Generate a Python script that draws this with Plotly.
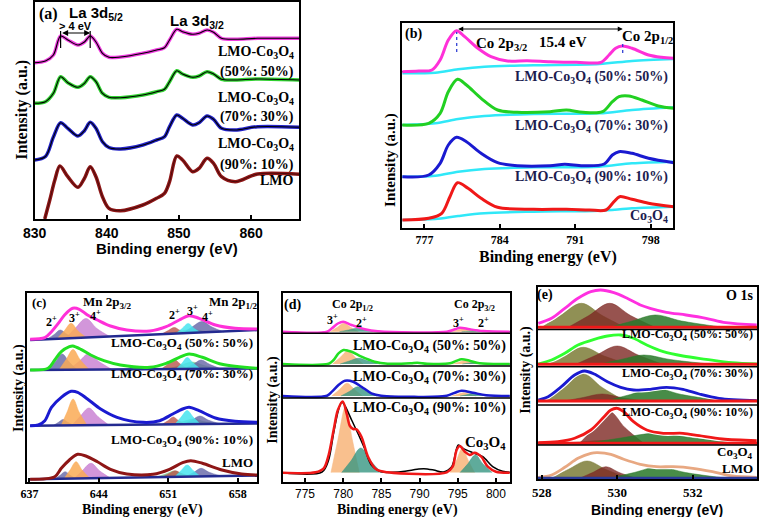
import plotly.graph_objects as go

W, H = 760, 517
SERIF = "Liberation Serif, Times New Roman, serif"
SANS = "Liberation Sans, Arial, sans-serif"

# ---------------- (a) La 3d ----------------
a_energy = [830.0, 831.5, 832.6, 833.6, 834.6, 836.0, 836.9, 837.7, 838.5, 839.4, 840.3, 841.9, 845.0,
            846.9, 848.0, 848.7, 849.7, 850.5, 851.9, 852.8, 853.9, 854.8, 855.9, 857.8, 860.9, 866.7]
a_5050 = [156.3, 158, 164, 183, 179, 174, 177, 183, 177, 165.7, 161.7, 162, 165.7, 169, 171.3, 179,
          189.7, 187.3, 184.7, 185.7, 189, 186.7, 180.7, 179.7, 180.7, 180.7]
a_7030 = [115.7, 117.3, 125.7, 142.3, 136.3, 131.7, 135.7, 142.3, 137.3, 125.7, 121.7, 121.3, 124,
          127.3, 129.7, 137.3, 148.3, 145, 141.7, 143, 147.3, 145, 139.7, 139, 140, 139]
a_9010 = [59, 62.5, 82, 96.3, 90.7, 83, 88.3, 96.7, 90.7, 77.3, 71.5, 70, 74, 79, 82.3, 92.3, 104,
          100.7, 94, 96.3, 103, 99.7, 90.7, 89, 92.3, 91.7]
a_lmo_energy = [831.4, 832.1, 832.8, 833.5, 834.6, 836.0, 836.9, 837.7, 838.5, 839.4, 840.3, 841.9, 845.0,
                846.9, 848.0, 848.7, 849.7, 850.5, 851.9, 852.8, 853.9, 854.8, 855.9, 857.8, 860.9, 866.7]
a_lmo = [0, 19, 39, 53, 42.3, 31.7, 40.7, 52.3, 42.3, 22.3, 10.7, 8.3, 14, 20.7, 25.7, 37.3, 63, 59,
         47.3, 50.7, 60.7, 55.7, 42.3, 37.3, 45, 44.7]
a_ticks = [830, 840, 850, 860]

# ---------------- (b) Co 2p ----------------
b_5050_E = [774.96, 776.48, 777.70, 778.46, 779.22, 779.98, 780.74, 781.96, 783.18, 784.70, 786.53,
            788.66, 791.09, 793.37, 794.13, 794.74, 795.35, 796.26, 797.79, 799.0, 800.13]
b_5050 = [156.3, 157, 158, 168, 188, 197.3, 191.3, 179.7, 171.3, 167, 167.3, 166.3, 165.7, 165.7, 173,
          179.7, 182, 179.7, 173, 170.7, 169.7]
b_7030_E = [774.96, 777.40, 778.46, 779.22, 780.07, 780.9, 782.26, 783.79, 785.61, 788.66, 790.18,
            791.70, 793.52, 794.44, 795.05, 795.96, 797.18, 798.70, 800.13]
b_7030 = [103, 104.7, 114.7, 136.3, 148.7, 143, 129.7, 118, 115.7, 116.3, 118, 115.7, 116.3, 126.3,
          131.3, 132, 128, 122, 119.7]
b_9010_E = [774.96, 777.40, 778.46, 779.22, 779.98, 780.9, 782.26, 783.79, 785.61, 788.66, 790.02,
            791.70, 793.68, 794.44, 795.05, 796.26, 797.79, 800.13]
b_9010 = [51.3, 53, 64.7, 83, 90.7, 86.3, 74.7, 65.3, 62.3, 62.3, 63.7, 62.3, 64, 73, 76.3, 74.7, 69.7, 65.3]
b_co_E = [774.96, 777.40, 778.61, 779.37, 780.07, 781.05, 782.26, 783.79, 787.13, 790.18, 792.31,
          793.83, 794.59, 795.11, 796.26, 797.79, 800.13]
b_co = [8, 9.7, 14.7, 31.3, 45.3, 39.7, 29.7, 20.7, 18.7, 18.7, 18, 18, 26.3, 31.3, 28.7, 24.7, 21.3]
b_bg_E = [774.96, 778.0, 780.13, 782.57, 787.13, 793.22, 796.26, 800.13]
b_bg_5050 = [154.7, 155.3, 158.7, 161.3, 162.7, 164, 167, 169]
b_bg_7030 = [103, 104.7, 109, 112, 114, 114.7, 118, 120.7]
b_bg_9010 = [51.3, 52.3, 56.3, 59, 60.7, 61.3, 64.7, 66.3]
b_bg_co = [8, 9, 12, 14.7, 16.3, 17.3, 19.7, 21.3]
b_ticks = [777, 784, 791, 798]

# ---------------- (c) Mn 2p ----------------
c_5050_E = [637.07, 638.55, 639.22, 640.04, 640.54, 641.37, 642.03, 642.85, 643.85, 645.17, 646.82,
            649.14, 650.79, 652.11, 653.10, 654.10, 655.75, 657.73, 659.98]
c_5050 = [142.7, 144.3, 150.3, 160.3, 167, 173.7, 172.7, 167, 162, 156, 152, 151, 155.3, 162, 166.3,
          163.7, 157, 153.7, 153]
c_7030_E = [637.07, 638.88, 639.55, 640.21, 641.03, 641.37, 642.19, 643.18, 644.51, 646.16, 649.14,
            650.79, 652.11, 653.10, 654.43, 656.41, 659.98]
c_7030 = [112, 113.7, 122, 130.3, 135.3, 136, 132.7, 127, 121.3, 117, 114.7, 118.7, 124.7, 128, 124.7,
          117.7, 113.7]
c_9010_E = [637.07, 637.89, 638.55, 639.22, 640.21, 641.2, 641.86, 642.85, 644.18, 645.83, 648.47,
            650.13, 651.45, 652.44, 653.10, 654.10, 655.75, 657.73, 659.98]
c_9010 = [56.3, 57, 61.3, 74.7, 84.7, 90.7, 89.7, 83, 73, 64.7, 59.7, 61.3, 68, 73, 74.7, 71.3, 64,
          60.7, 59.7]
c_lmo_E = [637.07, 639.55, 640.21, 641.03, 641.86, 642.69, 643.85, 645.17, 646.82, 649.47, 651.12,
           652.44, 653.27, 654.43, 656.41, 658.40, 659.98]
c_lmo = [2.7, 5.3, 13.7, 22, 27.7, 26, 20.3, 12.7, 8, 7.7, 12.7, 19.3, 21.3, 18.7, 12, 8, 7]
c_base_E = [637.07, 659.98]
c_base_5050 = [142, 152]
c_base_7030 = [112, 113.5]
c_base_9010 = [56.3, 58.5]
c_base_lmo = [2.7, 6.5]
# fitted components: Mn2+, Mn3+, Mn4+ (2p3/2) ; Mn2+, Mn3+, Mn4+, satellite (2p1/2)
c_5050_peaks = [
    ([638.8, 639.5, 640.1, 640.8, 641.6], [143, 147.5, 152, 147.5, 143.5]),
    ([639.8, 640.5, 641.2, 641.9, 642.8], [143.4, 151, 158.7, 151, 144]),
    ([640.6, 641.6, 642.7, 643.8, 645.2], [143.6, 153.5, 163.5, 153.5, 145]),
    ([650.4, 651.0, 651.6, 652.2, 652.9], [148.3, 151.5, 154.5, 151.5, 148.8]),
    ([651.8, 652.4, 653.0, 653.6, 654.3], [148.8, 153.5, 158.5, 153.5, 149.3]),
    ([652.5, 653.4, 654.4, 655.4, 656.6], [149, 155, 160.5, 155, 150]),
    ([650.8, 652.0, 653.4, 654.8, 656.2], [148.5, 150.5, 152.5, 150.5, 149.7]),
]
c_7030_peaks = [
    ([638.9, 639.6, 640.3, 641.0, 641.8], [112.2, 120, 128, 120, 112.4]),
    ([640.0, 640.7, 641.4, 642.1, 643.0], [112.3, 122.5, 132.5, 122.5, 112.5]),
    ([641.0, 642.0, 643.0, 644.0, 645.3], [112.4, 120.5, 128.5, 120.5, 112.7]),
    ([650.3, 651.0, 651.6, 652.2, 652.9], [113, 118, 122.5, 118, 113.1]),
    ([651.8, 652.4, 652.9, 653.5, 654.2], [113.1, 119, 124.5, 119, 113.2]),
    ([652.6, 653.5, 654.3, 655.2, 656.3], [113.2, 117.5, 122, 117.5, 113.3]),
    ([651.0, 652.2, 653.4, 654.6, 656.0], [113.1, 116.5, 120, 116.5, 113.3]),
]
c_9010_peaks = [
    ([639.4, 639.9, 640.4, 640.9, 641.5], [56.5, 59.5, 62.5, 59.5, 56.6]),
    ([640.2, 640.8, 641.4, 642.0, 642.8], [56.6, 70, 83, 70, 56.8]),
    ([641.3, 642.1, 643.0, 643.9, 645.0], [56.7, 65.5, 74, 65.5, 57]),
    ([650.4, 651.0, 651.5, 652.0, 652.7], [57.8, 61.5, 65, 61.5, 57.9]),
    ([651.7, 652.3, 652.9, 653.5, 654.2], [58, 65, 71.5, 65, 58.1]),
    ([652.6, 653.4, 654.2, 655.0, 656.2], [58.1, 62, 66, 62, 58.2]),
    ([651.5, 652.5, 653.5, 654.6, 656.0], [58, 60.5, 63, 60.5, 58.2]),
]
c_lmo_peaks = [
    ([639.6, 640.1, 640.6, 641.1, 641.7], [3.2, 6.7, 10.3, 6.7, 3.3]),
    ([640.5, 641.1, 641.7, 642.3, 643.1], [3.3, 12, 20.3, 12, 3.5]),
    ([641.5, 642.3, 643.2, 644.1, 645.2], [3.4, 11, 18.7, 11, 3.7]),
    ([650.5, 651.1, 651.7, 652.3, 653.0], [5.5, 8.5, 11.3, 8.5, 5.7]),
    ([651.7, 652.3, 652.9, 653.5, 654.2], [5.7, 11.5, 17, 11.5, 5.8]),
    ([652.8, 653.6, 654.3, 655.1, 656.3], [5.8, 9.8, 13.7, 9.8, 6]),
    ([650.0, 650.8, 651.6, 652.4, 653.3], [5.5, 8.3, 11, 8.3, 5.7]),
]
c_ticks = [637, 644, 651, 658]

# ---------------- (d) Co 2p fitted ----------------
d_5050_E = [772.08, 777.88, 778.52, 779.30, 780.0, 781.10, 782.82, 784.54, 793.56, 794.63, 795.27,
            796.56, 798.28, 801.80]
d_5050 = [150.3, 150.3, 153.7, 158.5, 160.3, 157, 152.7, 150.7, 150.3, 152.7, 154.3, 152.7, 151, 150.3]
d_7030_E = [772.08, 778.09, 778.74, 779.38, 780.03, 781.10, 782.39, 784.11, 785.82, 788.83, 789.69,
            790.98, 793.99, 794.85, 795.49, 796.56, 797.85, 801.80]
d_7030 = [118, 118.3, 122, 128.7, 132, 130.3, 125.3, 120.3, 118.3, 118.7, 119.3, 118.3, 118.7, 121.3,
          122.7, 121.3, 118.7, 118]
d_9010_E = [772.08, 777.88, 778.52, 779.38, 780.24, 781.31, 782.39, 783.68, 784.97, 793.56, 794.63,
            795.49, 796.99, 798.71, 801.80]
d_9010 = [86, 86.3, 90.3, 97, 101.3, 100.3, 95.3, 88.7, 86.3, 86.3, 89.3, 91.3, 89.3, 86.7, 86]
d_co_fit_E = [772.08, 776.37, 777.45, 778.09, 778.74, 779.30, 779.94, 780.46, 780.88, 781.31, 781.74,
              782.39, 783.25, 784.32, 785.82, 793.56, 794.33, 794.85, 795.27, 795.92, 796.56, 797.21,
              798.07, 798.93, 800.0, 801.80]
d_co_fit = [9.3, 9.7, 13.7, 27, 52, 72, 80.5, 68, 56, 53, 52.7, 45.3, 25.3, 12.7, 9.7, 9.7, 15.3, 32,
            36, 30.3, 27, 29.3, 25.3, 15.3, 10.3, 9.3]
d_co_raw_E = [772.08, 777.23, 778.09, 778.74, 779.38, 779.81, 780.24, 781.10, 781.96, 782.82, 783.68,
              784.97, 787.54, 789.69, 790.55, 791.84, 793.13, 794.20, 795.06, 795.70, 796.99, 798.28,
              799.57, 800.86, 801.80]
d_co_raw = [9.3, 10, 22, 48.7, 72, 80, 76, 62, 48, 33, 17, 10.3, 10.3, 12.7, 13.3, 12, 10, 15.3, 37,
            33.7, 29.3, 25.3, 15.3, 10.7, 9.7]
# components: Co3+ (2p1/2 label), Co2+, Co3+ (2p3/2 label), Co2+
d_5050_peaks = [
    ([778.3, 779.2, 780.1, 781.0, 782.0], [150.3, 154.5, 158.7, 154.5, 150.3]),
    ([779.5, 780.7, 781.8, 783.0, 784.5], [150.3, 152, 153.7, 152, 150.3]),
    ([794.2, 795.0, 795.8, 796.6, 797.4], [150.3, 152, 153.7, 152, 150.3]),
    ([795.5, 796.4, 797.3, 798.2, 799.3], [150.3, 150.8, 151.3, 150.8, 150.3]),
]
d_7030_peaks = [
    ([778.6, 779.6, 780.6, 781.6, 782.6], [118, 124.5, 131, 124.5, 118]),
    ([779.6, 780.8, 782.0, 783.3, 784.8], [118, 121, 123.7, 121, 118]),
    ([794.3, 795.1, 795.9, 796.7, 797.5], [118, 119.7, 121.3, 119.7, 118]),
    ([795.6, 796.4, 797.2, 798.1, 799.2], [118, 118.8, 119.7, 118.8, 118]),
]
d_9010_peaks = [
    ([778.5, 779.5, 780.5, 781.5, 782.5], [86, 92.3, 98.7, 92.3, 86]),
    ([779.7, 780.8, 781.9, 783.1, 784.4], [86, 90.5, 95.3, 90.5, 86]),
    ([794.2, 795.0, 795.8, 796.6, 797.4], [86, 87.7, 89.3, 87.7, 86]),
    ([795.3, 796.2, 797.0, 797.9, 799.0], [86, 87.3, 88.7, 87.3, 86]),
]
d_co_peaks = [
    ([778.4, 779.3, 780.3, 781.2, 782.1], [9.5, 42, 75, 42, 9.5]),
    ([779.8, 781.0, 782.3, 783.6, 785.0], [9.5, 21, 34, 21, 9.5]),
    ([794.0, 794.8, 795.6, 796.4, 797.2], [9.5, 21, 33.7, 21, 9.5]),
    ([795.3, 796.3, 797.3, 798.3, 799.5], [9.5, 18, 27, 18, 9.5]),
]
d_ticks = [775, 780, 785, 790, 795, 800]

# ---------------- (e) O 1s ----------------
e_5050_E = [527.91, 528.26, 528.61, 528.96, 529.30, 529.56, 529.91, 530.26, 530.61, 530.87, 531.30,
            531.82, 532.35, 532.87, 533.69]
e_5050 = [155.7, 160.7, 170.7, 180.7, 187.3, 189, 186.3, 180.7, 174, 170.7, 166.7, 164, 160.7, 156.3, 154]
e_7030_E = [527.91, 528.26, 528.61, 528.96, 529.39, 529.74, 530.09, 530.43, 530.78, 531.22, 531.74,
            532.35, 533.04, 533.69]
e_7030 = [115, 119, 125.7, 134, 139.7, 143, 144, 140.7, 134, 127.3, 123, 119.7, 116.3, 115]
e_9010_E = [527.91, 528.17, 528.52, 528.87, 529.13, 529.39, 529.74, 530.09, 530.43, 530.87, 531.30,
            531.74, 532.17, 532.69, 533.69]
e_9010 = [79, 82.3, 92.3, 104, 108, 105, 97.3, 91.7, 89, 89.7, 91.7, 89.7, 85, 80.7, 78.3]
e_co_E = [527.91, 528.43, 528.87, 529.30, 529.65, 529.83, 530.0, 530.17, 530.43, 530.78, 531.22,
          531.74, 532.17, 532.78, 533.69]
e_co = [36.3, 37.3, 40.7, 49, 62.3, 69, 70.7, 67.3, 57.3, 49, 45.7, 45.7, 43.3, 40, 38.3]
e_lmo_E = [527.91, 528.26, 528.61, 528.96, 529.30, 529.48, 529.83, 530.17, 530.61, 531.04, 531.48,
           532.0, 532.52, 533.04, 533.69]
e_lmo = [1.7, 4, 11.7, 20.7, 25.7, 26.3, 24.7, 19.7, 14.7, 12.3, 12.3, 10.7, 7.3, 3, 1.7]
e_base_E = [527.9, 533.7]
e_baselines = [151.7, 114.7, 78, 35.7, 0.7]
# components: lattice O (olive), O-defect (brown), adsorbed O (green)
e_5050_peaks = [
    ([528.0, 528.5, 529.05, 529.6, 530.2], [151.7, 163.5, 175.7, 163.5, 151.7]),
    ([528.7, 529.25, 529.8, 530.35, 531.0], [151.7, 163.5, 175.7, 163.5, 151.7]),
    ([529.8, 530.4, 531.0, 531.7, 532.8], [151.7, 158, 164, 158, 151.7]),
]
e_7030_peaks = [
    ([528.0, 528.55, 529.1, 529.65, 530.3], [114.7, 123, 131.7, 123, 114.7]),
    ([528.9, 529.45, 530.0, 530.55, 531.2], [114.7, 124, 133, 124, 114.7]),
    ([529.5, 530.1, 530.7, 531.4, 532.5], [114.7, 119.5, 124, 119.5, 114.7]),
]
e_9010_peaks = [
    ([528.1, 528.6, 529.1, 529.6, 530.2], [78, 91.5, 105, 91.5, 78]),
    ([528.6, 529.1, 529.6, 530.1, 530.7], [78, 81.5, 85, 81.5, 78]),
    ([529.7, 530.35, 531.0, 531.7, 532.8], [78, 84.5, 90.7, 84.5, 78]),
]
e_co_peaks = [
    ([528.5, 529.0, 529.6, 530.2, 530.8], [35.7, 37, 38.5, 37, 35.7]),
    ([529.0, 529.4, 529.8, 530.2, 530.7], [35.7, 51.5, 67.3, 51.5, 35.7]),
    ([529.2, 530.1, 531.0, 532.0, 533.5], [35.7, 41, 45.7, 41, 35.7]),
]
e_lmo_peaks = [
    ([528.2, 528.7, 529.2, 529.7, 530.3], [0.7, 9.5, 18, 9.5, 0.7]),
    ([529.0, 529.35, 529.7, 530.05, 530.5], [0.7, 6.5, 12.3, 6.5, 0.7]),
    ([529.8, 530.45, 531.1, 531.8, 532.9], [0.7, 6.5, 12.3, 6.5, 0.7]),
]
e_ticks = [528, 530, 532]

# =============== drawing ===============
fig = go.Figure()


def px(x):
    return x / W


def py(y):
    return 1 - y / H


def add_axes(i, xd, yd, xr, yr, tickvals, tickfont):
    sx = 'xaxis' if i == 1 else f'xaxis{i}'
    sy = 'yaxis' if i == 1 else f'yaxis{i}'
    xa = 'x' if i == 1 else f'x{i}'
    ya = 'y' if i == 1 else f'y{i}'
    fig.update_layout(**{
        sx: dict(domain=[px(xd[0]), px(xd[1])], range=xr, anchor=ya, showline=True, mirror=True,
                 linecolor='black', linewidth=2, ticks='inside', ticklen=4, tickwidth=1.5,
                 tickcolor='black', tickvals=tickvals, tickfont=tickfont, showgrid=False,
                 zeroline=False, fixedrange=True),
        sy: dict(domain=[py(yd[1]), py(yd[0])], range=yr, anchor=xa, showline=True, mirror=True,
                 linecolor='black', linewidth=2, showticklabels=False, ticks='', showgrid=False,
                 zeroline=False, fixedrange=True),
    })
    return xa, ya


def line(x, y, ax, color, width=2.5, shape='spline', dash=None):
    fig.add_trace(go.Scatter(x=x, y=y, xaxis=ax[0], yaxis=ax[1], mode='lines',
                             line=dict(color=color, width=width, shape=shape, smoothing=0.9, dash=dash),
                             hoverinfo='skip', showlegend=False))


def comp(x, y, ax, color, edge=None):
    fig.add_trace(go.Scatter(x=x, y=y, xaxis=ax[0], yaxis=ax[1], mode='lines', fill='toself',
                             fillcolor=color, line=dict(color=edge or color, width=0.6, shape='spline',
                                                        smoothing=1.0),
                             hoverinfo='skip', showlegend=False))


def text(x, y, s, size=14, family=SERIF, color='black', xanchor='center', bold=True, angle=0):
    fig.add_annotation(x=px(x), y=py(y), xref='paper', yref='paper', text=s, showarrow=False,
                       font=dict(family=family, size=size, color=color,
                                 weight='bold' if bold else 'normal'),
                       xanchor=xanchor, yanchor='middle', textangle=angle)


CO = "LMO-Co<sub>3</sub>O<sub>4</sub>"

# ---- panel (a)
axA = add_axes(1, (23, 292), (2, 219), [830, 866.7], [0, 217], a_ticks,
               dict(family=SANS, size=14, color='black', weight='bold'))
for yv, col in [(a_5050, '#f03ce0'), (a_7030, '#30d030'), (a_9010, '#2222c8')]:
    line(a_energy, yv, axA, col, 3.5)
    line(a_energy, yv, axA, 'black', 1.1)
line(a_lmo_energy, a_lmo, axA, '#8e1616', 3.5)
line(a_lmo_energy, a_lmo, axA, '#3a0a0a', 0.8)
for xv in (833.6, 837.7):
    fig.add_shape(type='line', xref='x', yref='y', x0=xv, x1=xv, y0=171, y1=188,
                  line=dict(color='black', width=1.2))
fig.add_annotation(x=837.7, y=186, ax=833.6, ay=186, xref='x', yref='y', axref='x', ayref='y',
                   text='', showarrow=True, arrowhead=2, startarrowhead=2, arrowside='end+start',
                   arrowwidth=1.2, arrowsize=1, arrowcolor='black')
text(37, 14, "(a)", 16)
text(85, 13, "La 3d<sub>5/2</sub>", 15, SANS)
text(188, 22, "La 3d<sub>3/2</sub>", 15, SANS)
text(65, 26, "&gt; 4 eV", 11, SANS)
text(289, 52, CO, 14, xanchor='right')
text(289, 72, "(50%: 50%)", 14, xanchor='right')
text(289, 98, CO, 14, xanchor='right')
text(289, 117, "(70%: 30%)", 14, xanchor='right')
text(289, 145, CO, 14, xanchor='right')
text(289, 165, "(90%: 10%)", 14, xanchor='right')
text(289, 180, "LMO", 14, xanchor='right')
text(10, 110, "Intensity (a.u.)", 16, angle=-90)
text(157, 248, "Binding energy (eV)", 15, SANS)

# ---- panel (b)
axB = add_axes(2, (396, 672), (23, 228), [774.9, 800.1], [0, 205], b_ticks,
               dict(family=SERIF, size=12, color='black', weight='bold'))
for bg in (b_bg_5050, b_bg_7030, b_bg_9010, b_bg_co):
    line(b_bg_E, bg, axB, '#30e8f8', 2.5)
line(b_5050_E, b_5050, axB, 'black', 1.2)
line(b_5050_E, b_5050, axB, '#ff30d8', 3)
line(b_7030_E, b_7030, axB, 'black', 1.2)
line(b_7030_E, b_7030, axB, '#22d022', 3)
line(b_9010_E, b_9010, axB, '#1a1ad0', 3)
line(b_co_E, b_co, axB, '#f01818', 3)
for xv, y0, y1 in ((780.0, 176, 196), (795.4, 175, 184)):
    fig.add_shape(type='line', xref='x2', yref='y2', x0=xv, x1=xv, y0=y0, y1=y1,
                  line=dict(color='#2030d0', width=1.2, dash='dot'))
fig.add_annotation(x=795.4, y=199, ax=780.0, ay=199, xref='x2', yref='y2', axref='x2', ayref='y2',
                   text='', showarrow=True, arrowhead=2, startarrowhead=2, arrowside='end+start',
                   arrowwidth=1, arrowsize=1, arrowcolor='black')
NAVY = '#1c1c50'
text(408, 34, "(b)", 14)
text(497, 44, "Co 2p<sub>3/2</sub>", 15)
text(560, 42, "15.4 eV", 15)
text(646, 37, "Co 2p<sub>1/2</sub>", 15)
text(669, 77, CO + " (50%: 50%)", 14, color=NAVY, xanchor='right')
text(669, 126, CO + " (70%: 30%)", 14, color=NAVY, xanchor='right')
text(669, 177, CO + " (90%: 10%)", 14, color=NAVY, xanchor='right')
text(669, 217, "Co<sub>3</sub>O<sub>4</sub>", 14, color=NAVY, xanchor='right')
text(384, 160, "Intensity (a.u.)", 15, angle=-90)
text(545, 257, "Binding energy (eV)", 16)

# ---- panel (c)
axC = add_axes(3, (15, 249), (293, 482), [636.73, 659.95], [0, 189], c_ticks,
               dict(family=SERIF, size=12, color='black', weight='bold'))
c_cols = ['rgba(110,110,170,0.85)', 'rgba(250,170,85,0.85)', 'rgba(195,115,205,0.75)',
          'rgba(185,85,75,0.8)', 'rgba(70,228,238,0.85)', 'rgba(100,100,165,0.8)',
          'rgba(80,180,100,0.6)']
c_order = [2, 0, 1, 6, 3, 5, 4]
for peaks, base, (ex, yv), col in [
        (c_5050_peaks, c_base_5050, (c_5050_E, c_5050), '#ff30d8'),
        (c_7030_peaks, c_base_7030, (c_7030_E, c_7030), '#22e022'),
        (c_9010_peaks, c_base_9010, (c_9010_E, c_9010), '#1a1ad0'),
        (c_lmo_peaks, c_base_lmo, (c_lmo_E, c_lmo), '#8e1616')]:
    for k in c_order:
        comp(peaks[k][0], peaks[k][1], axC, c_cols[k])
    line(c_base_E, base, axC, '#232a90', 2.5, shape='linear')
    line(ex, yv, axC, col, 3)
text(27, 302, "(c)", 13)
text(97, 302, "Mn 2p<sub>3/2</sub>", 13)
text(40, 321, "2<sup>+</sup>", 12)
text(63, 317, "3<sup>+</sup>", 12)
text(85, 315, "4<sup>+</sup>", 12)
text(225, 302, "Mn 2p<sub>1/2</sub>", 13)
text(165, 314, "2<sup>+</sup>", 12)
text(183, 310, "3<sup>+</sup>", 12)
text(199, 316, "4<sup>+</sup>", 12)
text(247, 343, CO + " (50%: 50%)", 13, xanchor='right')
text(247, 374, CO + " (70%: 30%)", 13, xanchor='right')
text(247, 440, CO + " (90%: 10%)", 13, xanchor='right')
text(247, 462, "LMO", 13, xanchor='right')
text(7, 388, "Intensity (a.u.)", 14, angle=-90)
text(133, 510, "Binding energy (eV)", 14)

# ---- panel (d)
axD = add_axes(4, (275, 506), (293, 482), [772.07, 801.84], [0, 189], d_ticks,
               dict(family=SANS, size=12, color='black'))
d_cols = ['rgba(248,185,130,0.9)', 'rgba(55,150,130,0.8)', 'rgba(248,185,130,0.9)',
          'rgba(55,150,130,0.8)']
for peaks, (ex, yv), col in [
        (d_5050_peaks, (d_5050_E, d_5050), '#ff30d8'),
        (d_7030_peaks, (d_7030_E, d_7030), '#22e022'),
        (d_9010_peaks, (d_9010_E, d_9010), '#1a1ad0')]:
    for k in range(4):
        comp(peaks[k][0], peaks[k][1], axD, d_cols[k])
    line(ex, yv, axD, 'black', 1.0)
    line(ex, yv, axD, col, 2.5)
for k in range(4):
    comp(d_co_peaks[k][0], d_co_peaks[k][1], axD, d_cols[k])
line(d_co_raw_E, d_co_raw, axD, 'black', 1.5)
line(d_co_fit_E, d_co_fit, axD, '#f01818', 2.5)
for yy in (333.3, 366.0, 398.0):
    fig.add_shape(type='line', xref='paper', yref='paper', x0=px(275), x1=px(506), y0=py(yy),
                  y1=py(yy), line=dict(color='black', width=1.5))
text(285, 305, "(d)", 14)
text(346, 305, "Co 2p<sub>1/2</sub>", 12)
text(326, 319, "3<sup>+</sup>", 12)
text(355, 322, "2<sup>+</sup>", 12)
text(470, 305, "Co 2p<sub>3/2</sub>", 12)
text(454, 322, "3<sup>+</sup>", 12)
text(479, 322, "2<sup>+</sup>", 12)
text(504, 346, CO + " (50%: 50%)", 14, xanchor='right')
text(504, 377, CO + " (70%: 30%)", 14, xanchor='right')
text(504, 408, CO + " (90%: 10%)", 14, xanchor='right')
text(504, 443, "Co<sub>3</sub>O<sub>4</sub>", 15, xanchor='right')
text(265, 400, "Intensity (a.u.)", 14, angle=-90)
text(392, 510, "Binding energy (eV)", 14)

# ---- panel (e)
axE = add_axes(5, (534, 757), (287, 479), [527.89, 533.70], [0, 192], e_ticks,
               dict(family=SERIF, size=13, color='black', weight='bold'))
e_cols = ['rgba(125,125,55,0.85)', 'rgba(125,40,35,0.8)', 'rgba(40,120,40,0.85)']
for peaks, (ex, yv), col in [
        (e_5050_peaks, (e_5050_E, e_5050), '#ff30e0'),
        (e_7030_peaks, (e_7030_E, e_7030), '#30ff30'),
        (e_9010_peaks, (e_9010_E, e_9010), '#1a1ad0'),
        (e_co_peaks, (e_co_E, e_co), '#f01818'),
        (e_lmo_peaks, (e_lmo_E, e_lmo), '#e8a882')]:
    for k in range(3):
        comp(peaks[k][0], peaks[k][1], axE, e_cols[k])
    line(ex, yv, axE, 'white', 5)
    line(ex, yv, axE, col, 2.8)
for i, b in enumerate(e_baselines):
    line(e_base_E, [b, b], axE, '#f01818' if i < 4 else '#2a3a9a', 3, shape='linear')
for yy in (329.5, 366.7, 405.0, 445.0):
    fig.add_shape(type='line', xref='paper', yref='paper', x0=px(534), x1=px(757), y0=py(yy),
                  y1=py(yy), line=dict(color='black', width=1.5))
text(542, 295, "(e)", 14)
text(755, 295, "O 1s", 14, xanchor='right')
text(755, 335, CO + " (50%: 50%)", 12, xanchor='right')
text(755, 374, CO + " (70%: 30%)", 12, xanchor='right')
text(755, 413, CO + " (90%: 10%)", 12, xanchor='right')
text(755, 452, "Co<sub>3</sub>O<sub>4</sub>", 13, xanchor='right')
text(755, 468, "LMO", 13, xanchor='right')
text(522, 370, "Intensity (a.u.)", 14, angle=-90)
text(655, 510, "Binding energy (eV)", 14, SANS)

fig.update_layout(width=W, height=H, margin=dict(l=0, r=0, t=0, b=0),
                  paper_bgcolor='white', plot_bgcolor='white', showlegend=False)
fig.write_html("out.html", config={'displayModeBar': False},
               post_script="document.body.style.margin='0';document.body.style.padding='0';")
